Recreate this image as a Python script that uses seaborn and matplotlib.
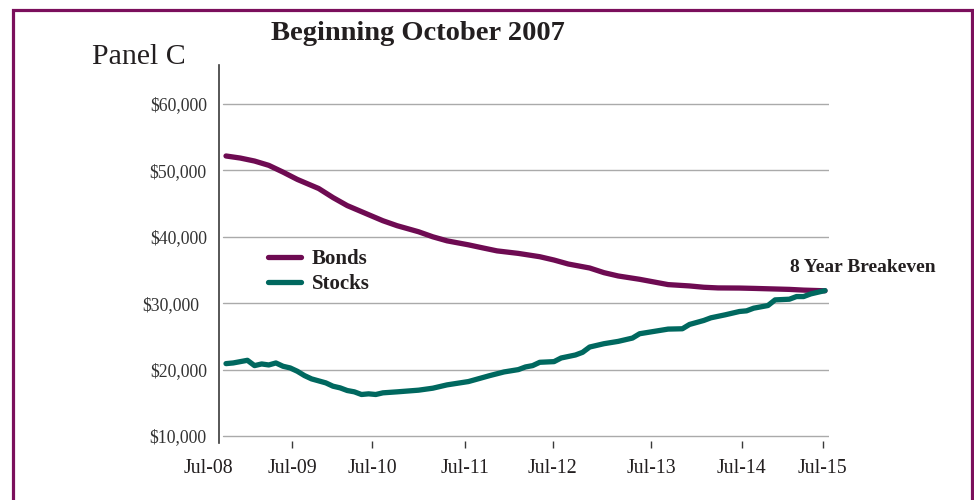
import matplotlib
matplotlib.use("Agg")
import matplotlib.pyplot as plt
import matplotlib.transforms as mtransforms
from matplotlib.patches import Rectangle
from matplotlib.lines import Line2D
import seaborn as sns
import pandas as pd

# ---- data (month index from Jul-08 start of series) ----
bonds_month = [0, 2, 4, 6, 8, 10, 13, 15, 17, 20, 22, 24, 27, 29, 31, 34, 36, 38, 41,
               44, 46, 48, 51, 53, 55, 58, 60, 62, 65, 67, 69, 72, 74, 76, 79, 81, 84]
bonds_value = [52170, 51860, 51410, 50760, 49740, 48640, 47270, 45910, 44700, 43330,
               42420, 41670, 40760, 40000, 39390, 38790, 38330, 37880, 37500, 37000,
               36500, 35900, 35300, 34600, 34100, 33600, 33200, 32800, 32600, 32400,
               32300, 32280, 32230, 32170, 32080, 31970, 31870]

stocks_month = [0, 1, 3, 4, 5, 6, 7, 8, 9, 10, 11, 12, 14, 15, 16, 17, 18, 19, 20, 21,
                22, 24, 27, 29, 31, 34, 36, 37, 39, 41, 42, 43, 44, 46, 47, 49, 50, 51,
                53, 55, 57, 58, 60, 62, 64, 65, 67, 68, 70, 72, 73, 74, 76, 77, 79, 80,
                81, 82, 84]
stocks_value = [20900, 21000, 21400, 20600, 20850, 20700, 21000, 20500, 20250, 19750,
                19100, 18600, 18000, 17500, 17250, 16850, 16650, 16250, 16350, 16250,
                16500, 16650, 16900, 17200, 17700, 18200, 18800, 19100, 19650, 20000,
                20400, 20600, 21100, 21200, 21750, 22200, 22600, 23400, 23900, 24250,
                24750, 25400, 25750, 26100, 26150, 26800, 27400, 27800, 28250, 28750,
                28850, 29250, 29650, 30500, 30600, 31000, 31000, 31400, 31900]

series_names = ["Bonds", "Stocks"]
series_colors = ["#6e0b52", "#00685f"]

x_tick_pos = [9.3, 20.5, 33.5, 45.8, 59.6, 72.3, 83.7]
x_tick_labels = ["Jul-09", "Jul-10", "Jul-11", "Jul-12", "Jul-13", "Jul-14", "Jul-15"]
first_label = "Jul-08"
first_label_pos = -2.5

y_ticks = [10000, 20000, 30000, 40000, 50000, 60000]
y_tick_labels = ["$10,000", "$20,000", "$30,000", "$40,000", "$50,000", "$60,000"]

title = "Beginning October 2007"
panel = "Panel C"
annotation = "8 Year Breakeven"

# ---- build frame ----
df = pd.concat([
    pd.DataFrame({"month": bonds_month, "value": bonds_value, "series": series_names[0]}),
    pd.DataFrame({"month": stocks_month, "value": stocks_value, "series": series_names[1]}),
])

sns.set_theme(style="white")
plt.rcParams["font.family"] = ["Liberation Serif", "DejaVu Serif"]
text_color = "#231f20"

W, H = 974, 500
fig = plt.figure(figsize=(W / 100, H / 100), dpi=100)
left_px, right_px, top_px, bottom_px = 219.3, 829.0, 65.0, 441.0
ax = fig.add_axes([left_px / W, 1 - bottom_px / H, (right_px - left_px) / W,
                   (bottom_px - top_px) / H])

sns.lineplot(data=df, x="month", y="value", hue="series", palette=series_colors,
             hue_order=series_names, linewidth=3.8, ax=ax, legend=False)
for ln in ax.lines:
    ln.set_solid_capstyle("round")
    ln.set_solid_joinstyle("round")

ax.set_xlim(-0.94, 84.56)
ax.set_ylim(9247, 65873)

# gridlines
for yv in y_ticks:
    ax.axhline(yv, xmin=0.006, xmax=1, color="#aaaaaa", linewidth=1.0, zorder=0)

ax.set_yticks(y_ticks)
ax.set_yticklabels(y_tick_labels)
ax.set_xticks(x_tick_pos)
ax.set_xticklabels(x_tick_labels)
ax.set_xlabel("")
ax.set_ylabel("")

for s in ["top", "right", "bottom"]:
    ax.spines[s].set_visible(False)
ax.spines["left"].set_color("#3a3a3a")
ax.spines["left"].set_linewidth(1.2)
ax.spines["left"].set_bounds(9000, 65873)

ax.tick_params(axis="y", length=0, pad=9, labelsize=12.8, labelcolor="#333333")
ax.tick_params(axis="x", length=5, width=1, direction="out", color="#3a3a3a",
               pad=8, labelsize=14.3, labelcolor=text_color, bottom=True)

# nudge the $30,000 label left as in reference
for lab in ax.get_yticklabels():
    if lab.get_text() == "$30,000":
        lab.set_transform(lab.get_transform() +
                          mtransforms.ScaledTranslation(-8 / 100, 0, fig.dpi_scale_trans))

# Jul-08 label sits left of the axis
ax.text(first_label_pos, -0.0, first_label,
        transform=mtransforms.blended_transform_factory(ax.transData, ax.transAxes),
        ha="center", va="top", fontsize=14.3, color=text_color, clip_on=False)
fig.canvas.draw()
ref = ax.get_xticklabels()[0].get_window_extent()
ax.texts[-1].set_transform(mtransforms.blended_transform_factory(ax.transData,
                                                                  mtransforms.IdentityTransform()))
ax.texts[-1].set_position((first_label_pos, ref.y1))

# legend
handles = [Line2D([0], [0], color=c, linewidth=3.8) for c in series_colors]
leg = ax.legend(handles, series_names, loc="upper left", frameon=False,
                bbox_to_anchor=(268 / W, 1 - 249.5 / H), bbox_transform=fig.transFigure,
                handlelength=1.6, handletextpad=0.5, labelspacing=0.22,
                borderpad=0, borderaxespad=0,
                prop={"weight": "bold", "size": 15})
for t in leg.get_texts():
    t.set_color(text_color)

# titles
fig.text(418 / W, 1 - 33 / H, title, ha="center", va="center", fontsize=20.5,
         fontweight="bold", color=text_color)
fig.text(92 / W, 1 - 57 / H, panel, ha="left", va="center", fontsize=21.5,
         color=text_color)

# annotation
ax.annotate(annotation, xy=(bonds_month[-1], bonds_value[-1]), xycoords="data",
            xytext=(790 / W, 1 - 268 / H), textcoords="figure fraction",
            ha="left", va="center", fontsize=14, fontweight="bold", color=text_color,
            annotation_clip=False)

# border frame
fig.patches.append(Rectangle((13 / W, -0.05), (971.5 - 13) / W, (1 - 10 / H) + 0.05,
                             transform=fig.transFigure, fill=False,
                             edgecolor="#7b0f5c", linewidth=2.3, figure=fig))

fig.savefig("out.png", dpi=100)
